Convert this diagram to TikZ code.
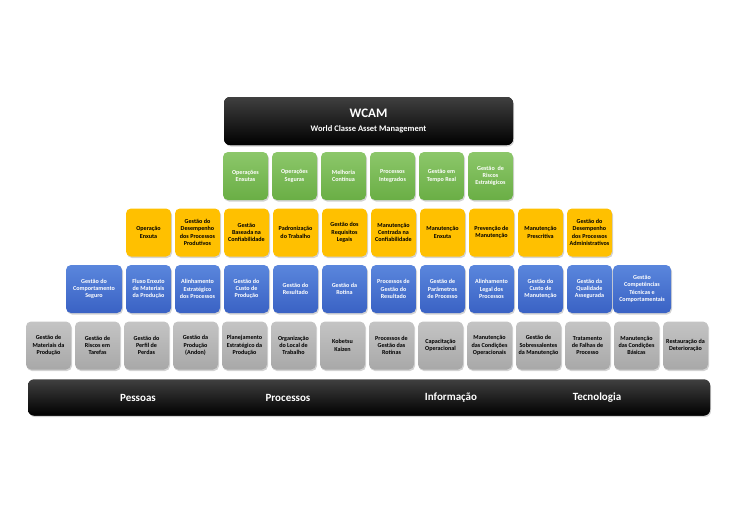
\documentclass[tikz,border=0pt]{standalone}
\usepackage{fontspec}
\setmainfont{Carlito}
\usetikzlibrary{shadows}
\definecolor{wgreen}{HTML}{6AAE45}
\definecolor{wgreenlt}{HTML}{8CC76A}
\definecolor{wyellow}{HTML}{FFC000}
\definecolor{wblue}{HTML}{3A62C4}
\definecolor{wbluelt}{HTML}{5A86DC}
\definecolor{wgray}{HTML}{A8A8A8}
\definecolor{wgraylt}{HTML}{C4C4C4}
\tikzset{
  pillar/.style={rounded corners=5pt, minimum width=45pt, minimum height=48pt,
    align=center, inner sep=1pt, font=\fontsize{6.1}{7.3}\selectfont\bfseries,
    drop shadow={shadow xshift=1pt, shadow yshift=-1.5pt, opacity=0.35}},
  greenbox/.style={pillar, top color=wgreenlt, bottom color=wgreen, text=white},
  yellowbox/.style={pillar, fill=wyellow, text=black},
  bluebox/.style={pillar, top color=wbluelt, bottom color=wblue, text=white},
  graybox/.style={pillar, top color=wgraylt, bottom color=wgray, text=black},
  blackbar/.style={rounded corners=6pt, fill=black, text=white, top color=black!75, bottom color=black,
    drop shadow={shadow xshift=1pt, shadow yshift=-1.5pt, opacity=0.35}}
}
\begin{document}
\begin{tikzpicture}[x=1pt,y=-1pt]
  \useasboundingbox (0,0) rectangle (742,512);

  % topo
  \node[blackbar, minimum width=289pt, minimum height=48pt, align=center] (wcam) at (368.5,121)
    {{\fontsize{13}{15}\selectfont\bfseries WCAM}\\[2pt]{\fontsize{8.5}{10}\selectfont\bfseries World Classe Asset Management}};

  % linha verde
  \foreach \t [count=\i] in {Operações\\Enxutas, Operações\\Seguras, Melhoria\\Contínua,
      Processos\\Integrados, Gestão em\\Tempo Real, Gestão~~de\\Riscos\\Estratégicos}
    \node[greenbox] (g\i) at ({245.5+49*(\i-1)},176) {\t};

  % linha amarela
  \foreach \t [count=\i] in {Operação\\Enxuta, Gestão do\\Desempenho\\dos Processos\\Produtivos,
      Gestão\\Baseada na\\Confiabilidade, Padronização\\do Trabalho, Gestão dos\\Requisitos\\Legais,
      Manutenção\\Centrada na\\Confiabilidade, Manutenção\\Enxuta, Prevenção de\\Manutenção,
      Manutenção\\Prescritiva, Gestão do\\Desempenho\\dos Processos\\Administrativos}
    \node[yellowbox] (y\i) at ({148.5+49*(\i-1)},232.5) {\t};

  % linha azul
  \node[bluebox, minimum width=56pt] (b0) at (94,289) {Gestão do\\Comportamento\\Seguro};
  \foreach \t [count=\i] in {Fluxo Enxuto\\de Materiais\\da Produção, Alinhamento\\Estratégico\\dos Processos,
      Gestão do\\Custo de\\Produção, Gestão do\\Resultado, Gestão da\\Rotina,
      Processos de\\Gestão do\\Resultado, Gestão de\\Parâmetros\\de Processo, Alinhamento\\Legal dos\\Processos,
      Gestão do\\Custo de\\Manutenção, Gestão da\\Qualidade\\Assegurada}
    \node[bluebox] (b\i) at ({148.5+49*(\i-1)},289) {\t};
  \node[bluebox, minimum width=58pt] (b11) at (642,289) {Gestão\\Competências\\Técnicas e\\Comportamentais};

  % linha cinza
  \foreach \t [count=\i] in {Gestão de\\Materiais da\\Produção, Gestão de\\Riscos em\\Tarefas,
      Gestão do\\Perfil de\\Perdas, Gestão da\\Produção\\(Andon), Planejamento\\Estratégico da\\Produção,
      Organização\\do Local de\\Trabalho, Kobetsu\\Kaizen, Processos de\\Gestão das\\Rotinas,
      Capacitação\\Operacional, Manutenção\\das Condições\\Operacionais, Gestão de\\Sobressalentes\\da Manutenção,
      Tratamento\\de Falhas de\\Processo, Manutenção\\das Condições\\Básicas, Restauração da\\Deterioração}
    \node[graybox] (c\i) at ({48.5+49*(\i-1)},345.5) {\t};

  % base
  \node[blackbar, minimum width=682pt, minimum height=36pt] (base) at (369,397.5) {};
  \foreach \t/\x [count=\i] in {Pessoas/138, Processos/288, Informação/451, Tecnologia/597}
    \node[text=white, font=\fontsize{11}{13}\selectfont\bfseries] (p\i) at (\x,397.5) {\t};
\end{tikzpicture}
\end{document}
